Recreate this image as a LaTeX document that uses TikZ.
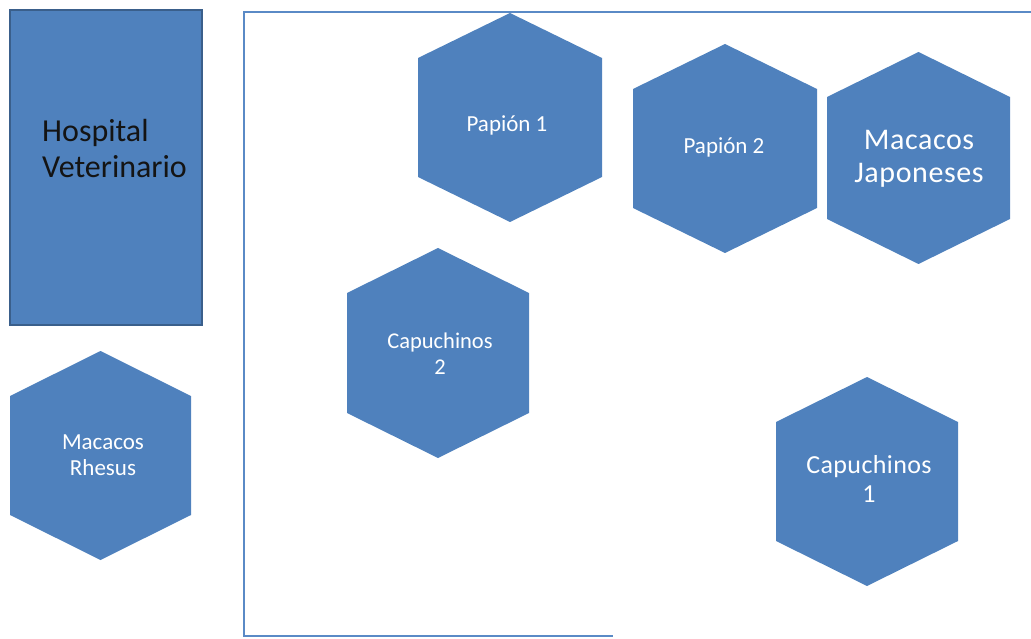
\documentclass[tikz,border=0pt]{standalone}
\usepackage{fontspec}
\setmainfont{Carlito}
\definecolor{hexblue}{HTML}{4F81BD}
\definecolor{hosborder}{HTML}{3A5F8B}
\definecolor{framec}{HTML}{5A8AC6}
\definecolor{darktext}{HTML}{141414}
\newcommand\hexfill[1]{%
  \fill[hexblue] (#1.north) -- ([yshift=-45pt]#1.north east) -- ([yshift=45pt]#1.south east)
    -- (#1.south) -- ([yshift=45pt]#1.south west) -- ([yshift=-45pt]#1.north west) -- cycle;}
\begin{document}
\begin{tikzpicture}[x=1pt,y=-1pt,
  hexbox/.style={inner sep=0pt, outer sep=0pt, minimum width=183pt, minimum height=209pt},
  lab/.style={anchor=base, inner sep=0pt, outer sep=0pt, text=white},
  hosbox/.style={fill=hexblue, draw=hosborder, line width=1.6pt, inner sep=0pt,
    minimum width=192pt, minimum height=315pt},
  framel/.style={draw=framec, line width=1.4pt}]
\useasboundingbox (0,0) rectangle (1031,639);
% frame
\coordinate (ftr) at (1031,12);
\coordinate (ftl) at (244,12);
\coordinate (fbl) at (244,636);
\coordinate (fbr) at (613,636);
\draw[framel] (ftr) -- (ftl) -- (fbl) -- (fbr);
% hospital
\node[hosbox] (hosp) at (106,167.5) {};
\node[anchor=base west, inner sep=0pt, text=darktext, font=\fontsize{32}{36}\selectfont]
  (hosptxt) at (42,142) {\begin{tabular}[t]{@{}l@{}}Hospital\\Veterinario\end{tabular}};
% hexagons
\node[hexbox, minimum width=184pt] (p1) at (510,117.5) {};
\node[hexbox, minimum width=184pt] (p2) at (725,148.5) {};
\node[hexbox, minimum height=212pt] (mj) at (918.5,158) {};
\node[hexbox, minimum width=182pt, minimum height=210pt] (c2) at (438,353) {};
\node[hexbox, minimum width=182pt] (c1) at (867,481.5) {};
\node[hexbox, minimum width=181pt] (mr) at (100.5,455.5) {};
\hexfill{p1}\hexfill{p2}\hexfill{mj}\hexfill{c2}\hexfill{c1}\hexfill{mr}
% labels
\node[lab, font=\fontsize{23}{27}\selectfont] (p1t) at (507,132) {Papión 1};
\node[lab, font=\fontsize{23}{27}\selectfont] (p2t) at (724,154) {Papión 2};
\node[lab, font=\fontsize{30}{33}\selectfont\addfontfeature{LetterSpace=2}] (mjt) at (919,150)
  {\begin{tabular}[t]{@{}c@{}}Macacos\\Japoneses\end{tabular}};
\node[lab, font=\fontsize{22.5}{26}\selectfont] (c2t) at (440,348)
  {\begin{tabular}[t]{@{}c@{}}Capuchinos\\2\end{tabular}};
\node[lab, font=\fontsize{26}{29}\selectfont\addfontfeature{LetterSpace=1.5}] (c1t) at (869,473)
  {\begin{tabular}[t]{@{}c@{}}Capuchinos\\1\end{tabular}};
\node[lab, font=\fontsize{23}{26}\selectfont] (mrt) at (103,449)
  {\begin{tabular}[t]{@{}c@{}}Macacos\\Rhesus\end{tabular}};
\end{tikzpicture}
\end{document}
